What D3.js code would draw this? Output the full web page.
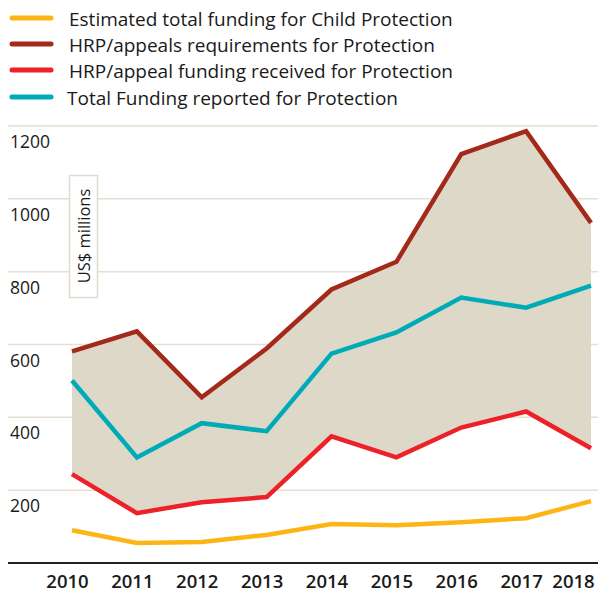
<!DOCTYPE html>
<html><head><meta charset="utf-8">
<script src="https://cdn.jsdelivr.net/npm/d3@7"></script>
<style>body{margin:0;background:#fff}svg{display:block}</style>
</head><body><svg id="c" width="598" height="599"></svg>
<script>
const years = [2010,2011,2012,2013,2014,2015,2016,2017,2018];
const childProtection = [90,55,58,77,107,104,112,123,170];
const requirements = [581,636,455,589,751,827,1123,1186,934];
const hrpReceived = [244,137,167,181,348,290,372,416,315];
const totalFunding = [501,290,384,362,575,633,729,701,762];
const yTicks = [200,400,600,800,1000,1200];
const legendLabels = ["Estimated total funding for Child Protection","HRP/appeals requirements for Protection","HRP/appeal funding received for Protection","Total Funding reported for Protection"];
const colors = ["#fdb515","#a3291a","#ee2129","#00abb8"];

const font = "'Open Sans',sans-serif";
const svg = d3.select("#c");
const x = d3.scaleLinear().domain([2010,2018]).range([72,591]);
const y = d3.scaleLinear().domain([0,1200]).range([563,126]);

// gridlines
svg.append("g").selectAll("line").data(yTicks).join("line")
  .attr("x1",8).attr("x2",598).attr("y1",d=>y(d)).attr("y2",d=>y(d))
  .attr("stroke","#e4dfd2").attr("stroke-width",1.5);
svg.append("g").selectAll("text").data(yTicks).join("text")
  .attr("x",10).attr("y",d=>y(d)+22).text(d=>d)
  .attr("font-family",font).attr("font-size",17.5).attr("fill","#1a1a1a");

// area
const rows = years.map((yr,i)=>({yr,req:requirements[i],rec:hrpReceived[i]}));
svg.append("path").datum(rows)
  .attr("d",d3.area().x(d=>x(d.yr)).y0(d=>y(d.rec)).y1(d=>y(d.req)))
  .attr("fill","#ddd8c8");

// y label box
const lb = svg.append("g");
lb.append("rect").attr("x",69.5).attr("y",175.5).attr("width",28).attr("height",122)
  .attr("fill","#fff").attr("stroke","#e0dbcd").attr("stroke-width",1.5);
lb.append("text").attr("transform","translate(89.5,236) rotate(-90)")
  .attr("text-anchor","middle").attr("font-family",font).attr("font-size",16.5)
  .attr("fill","#1a1a1a").text("US$ millions");

// axis baseline
svg.append("line").attr("x1",8).attr("x2",598).attr("y1",563).attr("y2",563)
  .attr("stroke","#222").attr("stroke-width",2);

// x axis labels
const xa = svg.append("g").attr("transform","translate(0,563)")
  .call(d3.axisBottom(x).tickValues(years).tickFormat(d3.format("d")).tickSize(0).tickPadding(12));
xa.select(".domain").remove();
xa.selectAll("text").attr("font-family",font).attr("font-size",18.5).attr("font-weight",600)
  .attr("fill","#1a1a1a").attr("dx",(d,i)=> i===years.length-1 ? -18 : -5);

// lines
const series = [childProtection, requirements, hrpReceived, totalFunding];
const drawOrder = [1,3,2,0];
const line = d3.line().x((d,i)=>x(years[i])).y(d=>y(d));
drawOrder.forEach(k=>{
  svg.append("path").datum(series[k]).attr("d",line)
    .attr("fill","none").attr("stroke",colors[k]).attr("stroke-width",4.5)
    .attr("stroke-linejoin","miter");
});

// legend
const lg = svg.append("g");
const ly = [18,44,70,97];
legendLabels.forEach((t,i)=>{
  lg.append("line").attr("x1",12).attr("x2",51).attr("y1",ly[i]).attr("y2",ly[i])
    .attr("stroke",colors[i]).attr("stroke-width",5).attr("stroke-linecap","round");
  lg.append("text").attr("x",i===3?67:69).attr("y",ly[i]+8).text(t)
    .attr("font-family",font).attr("font-size",19).attr("fill","#1a1a1a");
});
</script></body></html>
